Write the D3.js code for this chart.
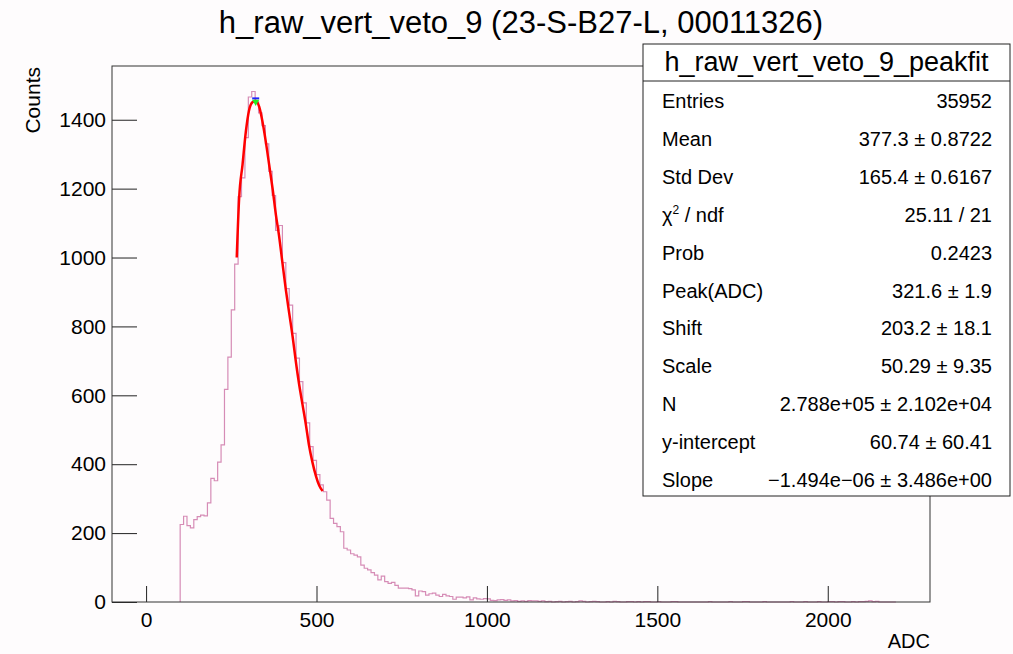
<!DOCTYPE html>
<meta charset="utf-8" />
<title>h_raw_vert_veto_9</title>
<script src="https://d3js.org/d3.v7.min.js"></script>
<style>
  body { margin: 0; background: #fefcfd; }
  svg { display: block; font-family: "Liberation Sans", Arial, Helvetica, sans-serif; }
</style>
<div id="chart"></div>
<script>
  // histogram: 10 ADC bins starting at 100
  var binStart = 100;
  var binWidth = 10;
  var counts = [
    225, 249, 222, 215, 239, 248, 252, 250, 288, 359,
    352, 406, 456, 617, 711, 848, 981, 1177, 1231, 1348,
    1466, 1482, 1452, 1420, 1383, 1330, 1250, 1180, 1079, 1093,
    985, 910, 862, 780, 708, 640, 578, 520, 451, 411,
    370, 340, 320, 296, 243, 228, 219, 204, 156, 151,
    140, 136, 131, 107, 98, 93, 85, 78, 64, 75,
    59, 54, 57, 48, 40, 40, 40, 39, 35, 18,
    32, 30, 20, 24, 26, 20, 16, 22, 18, 16,
    8, 14, 14, 12, 15, 6, 12, 9, 8, 10,
    9, 5, 4, 6, 7, 5, 6, 3, 4, 2,
    3, 2, 4, 3, 3, 2, 3, 1, 2, 0,
    1, 2, 0, 1, 2, 0, 1, 3, 2, 0,
    1, 2, 1, 0, 0, 1, 0, 2, 1, 0,
    0, 1, 1, 0, 1, 0, 1, 1, 0, 0,
    1, 0, 0, 0, 1, 1, 0, 0, 0, 0,
    0, 0, 0, 0, 0, 1, 0, 0, 0, 0,
    0, 1, 0, 0, 0, 1, 1, 0, 0, 0,
    0, 1, 0, 0, 0, 0, 0, 0, 0, 1,
    0, 0, 0, 1, 0, 0, 0, 1, 0, 0,
    1, 1, 0, 1, 1, 0, 0, 1, 0, 1,
    1, 2, 3, 1, 2, 0, 0, 0, 0, 0
  ];

  // fit curve
  var fitADC = [266, 273, 283, 293, 302, 312, 321.6, 332, 341, 351, 361, 371, 381, 390,
    400, 410, 420, 430, 439, 449, 459, 469, 478, 488, 498, 508, 518];
  var fitCounts = [1000, 1172, 1270, 1368, 1427, 1451, 1455, 1437, 1397, 1338, 1270, 1201, 1123, 1064,
    985, 907, 838, 770, 701, 632, 573, 514, 455, 406, 367, 338, 322];
  var peakADC = 321.6;
  var peakMax = 1462;

  var xMajor = [0, 500, 1000, 1500, 2000];
  var yMajor = [0, 200, 400, 600, 800, 1000, 1200, 1400];

  var statsTitle = "h_raw_vert_veto_9_peakfit";
  var statsLabels = ["Entries", "Mean", "Std Dev", "chi2", "Prob", "Peak(ADC)", "Shift",
    "Scale", "N", "y-intercept", "Slope"];
  var statsValues = ["35952", "377.3 \u00b1 0.8722", "165.4 \u00b1 0.6167", "25.11 / 21",
    "0.2423", "321.6 \u00b1 1.9", "203.2 \u00b1 18.1", "50.29 \u00b1 9.35",
    "2.788e+05 \u00b1 2.102e+04", "60.74 \u00b1 60.41", "\u22121.494e\u221206 \u00b1 3.486e+00"];

  var W = 1013, H = 654;
  var frame = { left: 112, right: 930, top: 66, bottom: 602 };

  var svg = d3.select("#chart").append("svg")
    .attr("width", W)
    .attr("height", H);

  svg.append("rect").attr("width", W).attr("height", H).attr("fill", "#fefcfd");

  var x = d3.scaleLinear().domain([-100, 2300]).range([frame.left, frame.right]);
  var y = d3.scaleLinear().domain([0, 1556]).range([frame.bottom, frame.top]);

  // title
  svg.append("text")
    .attr("x", 521).attr("y", 33)
    .attr("text-anchor", "middle")
    .attr("font-size", 31)
    .text("h_raw_vert_veto_9 (23-S-B27-L, 00011326)");

  // histogram outline
  var pts = [[binStart, 0]];
  counts.forEach(function (c, i) { pts.push([binStart + i * binWidth, c]); });
  pts.push([binStart + counts.length * binWidth, 0]);

  var step = d3.line()
    .x(function (d) { return x(d[0]); })
    .y(function (d) { return y(d[1]); })
    .curve(d3.curveStepAfter);

  svg.append("path")
    .datum(pts)
    .attr("d", step)
    .attr("fill", "none")
    .attr("stroke", "#d68cb6")
    .attr("stroke-width", 1.2);

  // fit
  var fitLine = d3.line()
    .x(function (d, i) { return x(fitADC[i]); })
    .y(function (d) { return y(d); })
    .curve(d3.curveMonotoneX);

  svg.append("path")
    .datum(fitCounts)
    .attr("d", fitLine)
    .attr("fill", "none")
    .attr("stroke", "#ff0000")
    .attr("stroke-width", 2.5);

  // peak markers
  svg.append("line")
    .attr("x1", x(peakADC) - 3.5).attr("x2", x(peakADC) + 3.5)
    .attr("y1", y(peakMax)).attr("y2", y(peakMax))
    .attr("stroke", "#2020ff").attr("stroke-width", 2);
  svg.append("path")
    .attr("d", d3.symbol().type(d3.symbolTriangle).size(22)())
    .attr("transform", "translate(" + x(peakADC) + "," + (y(peakMax) + 3.5) + ") rotate(180)")
    .attr("fill", "#22ee22");

  // axes
  var gy = svg.append("g").attr("transform", "translate(" + frame.left + ",0)");
  gy.call(d3.axisLeft(y).tickValues(d3.range(0, 1556, 50)).tickSize(-14).tickFormat(""));
  gy.call(d3.axisLeft(y).tickValues(yMajor).tickSize(-25).tickPadding(6).tickFormat(d3.format("d")));
  gy.selectAll(".domain").remove();

  var gx = svg.append("g").attr("transform", "translate(0," + frame.bottom + ")");
  gx.call(d3.axisBottom(x).tickValues(d3.range(0, 2300, 100)).tickSize(-8).tickFormat(""));
  gx.call(d3.axisBottom(x).tickValues(xMajor).tickSize(-16).tickPadding(10).tickFormat(d3.format("d")));
  gx.selectAll(".domain").remove();

  svg.selectAll(".tick line").attr("stroke", "#222").attr("stroke-width", 1);
  svg.selectAll(".tick text")
    .attr("font-size", 21)
    .attr("font-family", "Liberation Sans, Arial, sans-serif")
    .attr("fill", "#000");

  svg.append("rect")
    .attr("x", frame.left).attr("y", frame.top)
    .attr("width", frame.right - frame.left)
    .attr("height", frame.bottom - frame.top)
    .attr("fill", "none")
    .attr("stroke", "#333")
    .attr("stroke-width", 1);

  svg.append("text")
    .attr("transform", "translate(40,67) rotate(-90)")
    .attr("text-anchor", "end")
    .attr("font-size", 21)
    .text("Counts");

  svg.append("text")
    .attr("x", 930).attr("y", 648)
    .attr("text-anchor", "end")
    .attr("font-size", 20)
    .text("ADC");

  // stats box
  var box = { x: 643, y: 44, w: 367, h: 452, head: 37 };
  var gs = svg.append("g");
  gs.append("rect")
    .attr("x", box.x).attr("y", box.y)
    .attr("width", box.w).attr("height", box.h)
    .attr("fill", "#ffffff")
    .attr("stroke", "#222").attr("stroke-width", 1);
  gs.append("line")
    .attr("x1", box.x).attr("x2", box.x + box.w)
    .attr("y1", box.y + box.head).attr("y2", box.y + box.head)
    .attr("stroke", "#222");
  gs.append("text")
    .attr("x", box.x + box.w / 2).attr("y", box.y + 27)
    .attr("text-anchor", "middle")
    .attr("font-size", 27)
    .text(statsTitle);

  var rowY = d3.scaleLinear().domain([0, statsLabels.length - 1]).range([108, 487]);
  statsLabels.forEach(function (lab, i) {
    var t = gs.append("text")
      .attr("x", 662).attr("y", rowY(i))
      .attr("font-size", 20);
    if (lab === "chi2") {
      t.append("tspan").text("\u03c7");
      t.append("tspan").attr("font-size", 12).attr("dy", -8).text("2");
      t.append("tspan").attr("dy", 8).text(" / ndf");
    } else {
      t.text(lab);
    }
    gs.append("text")
      .attr("x", 992).attr("y", rowY(i))
      .attr("text-anchor", "end")
      .attr("font-size", 20)
      .text(statsValues[i]);
  });
</script>
